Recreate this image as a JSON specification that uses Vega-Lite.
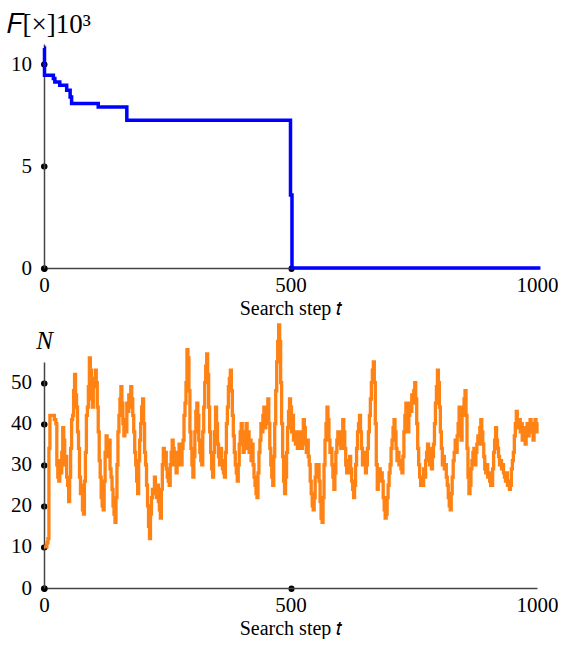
{
  "$schema": "https://vega.github.io/schema/vega-lite/v6.json",
  "padding": {"left": 6, "top": 10, "right": 0, "bottom": 0},
  "background": "white",
  "spacing": -1,
  "config": {
    "view": {"stroke": null},
    "font": "Liberation Serif",
    "axis": {
      "grid": false,
      "domainColor": "#444444",
      "domainWidth": 1.5,
      "tickColor": "black",
      "tickCap": "round",
      "tickWidth": 6,
      "tickSize": 0.5
    }
  },
  "vconcat": [
    {
      "width": 493,
      "height": 224,
      "data": {"values": [
        {"t": 0, "F": 10.8}, {"t": 1, "F": 9.46}, {"t": 19, "F": 9.3}, {"t": 22, "F": 9.13},
        {"t": 32, "F": 8.97}, {"t": 46, "F": 8.73}, {"t": 53, "F": 8.4}, {"t": 56, "F": 8.08},
        {"t": 110, "F": 7.91}, {"t": 168, "F": 7.26}, {"t": 500, "F": 3.58}, {"t": 503, "F": 0},
        {"t": 1007, "F": 0}
      ]},
      "mark": {"type": "line", "interpolate": "step-after", "color": "#0000ff", "strokeWidth": 3.5},
      "encoding": {
        "x": {
          "field": "t", "type": "quantitative",
          "scale": {"domain": [0, 1000], "nice": false},
          "axis": {
            "values": [0, 500, 1000], "format": "d", "labelPadding": 6, "labelFlush": false,
            "labelFont": "Liberation Serif", "labelFontSize": 21, "labelColor": "black",
            "tickColor": {"condition": {"test": "datum.value == 1000", "value": "transparent"}, "value": "black"},
            "title": "Search step 𝑡", "titlePadding": 3,
            "titleFont": "Liberation Serif", "titleFontSize": 20, "titleFontWeight": "normal", "titleColor": "black"
          }
        },
        "y": {
          "field": "F", "type": "quantitative",
          "scale": {"domain": [0, 11], "nice": false},
          "axis": {
            "values": [0, 5, 10], "labelPadding": 12,
            "labelFont": "Liberation Serif", "labelFontSize": 21, "labelColor": "black",
            "title": "𝐹[×]10³", "titleAngle": 0, "titleAlign": "left", "titleBaseline": "alphabetic",
            "titleX": -38, "titleY": -12,
            "titleFont": "Liberation Serif", "titleFontSize": 27, "titleFontWeight": "normal", "titleColor": "black"
          }
        }
      }
    },
    {
      "width": 493,
      "height": 226,
      "data": {"values": [
        {"t":0,"N":10},{"t":3,"N":10},{"t":6,"N":11},{"t":8,"N":12},{"t":10,"N":34},{"t":12,"N":42},{"t":15,"N":42},{"t":18,"N":42},{"t":21,"N":41},{"t":24,"N":40},
        {"t":26,"N":30},{"t":28,"N":27},{"t":30,"N":26},{"t":32,"N":31},{"t":34,"N":28},{"t":36,"N":33},{"t":38,"N":39},{"t":40,"N":36},{"t":42,"N":30},{"t":44,"N":32},
        {"t":46,"N":27},{"t":48,"N":25},{"t":50,"N":21},{"t":52,"N":27},{"t":54,"N":34},{"t":56,"N":41},{"t":58,"N":42},{"t":60,"N":48},{"t":62,"N":52},{"t":64,"N":47},
        {"t":66,"N":44},{"t":68,"N":38},{"t":70,"N":34},{"t":72,"N":27},{"t":74,"N":23},{"t":76,"N":25},{"t":78,"N":19},{"t":80,"N":18},{"t":82,"N":26},{"t":84,"N":33},
        {"t":86,"N":42},{"t":88,"N":44},{"t":90,"N":49},{"t":92,"N":56},{"t":94,"N":53},{"t":96,"N":46},{"t":98,"N":44},{"t":100,"N":49},{"t":102,"N":51},{"t":104,"N":53},
        {"t":106,"N":50},{"t":108,"N":44},{"t":110,"N":38},{"t":112,"N":31},{"t":114,"N":27},{"t":116,"N":22},{"t":118,"N":20},{"t":120,"N":19},{"t":122,"N":26},{"t":124,"N":33},
        {"t":126,"N":37},{"t":128,"N":35},{"t":130,"N":32},{"t":132,"N":36},{"t":134,"N":29},{"t":136,"N":27},{"t":138,"N":24},{"t":140,"N":20},{"t":142,"N":18},{"t":144,"N":16},
        {"t":146,"N":22},{"t":148,"N":30},{"t":150,"N":38},{"t":152,"N":42},{"t":154,"N":46},{"t":156,"N":49},{"t":158,"N":45},{"t":160,"N":40},{"t":162,"N":37},{"t":164,"N":41},
        {"t":166,"N":38},{"t":168,"N":45},{"t":170,"N":43},{"t":172,"N":47},{"t":174,"N":44},{"t":176,"N":49},{"t":178,"N":46},{"t":180,"N":42},{"t":182,"N":38},{"t":184,"N":33},
        {"t":186,"N":30},{"t":188,"N":26},{"t":190,"N":23},{"t":192,"N":31},{"t":194,"N":36},{"t":196,"N":40},{"t":198,"N":44},{"t":200,"N":46},{"t":202,"N":40},{"t":204,"N":33},
        {"t":206,"N":30},{"t":208,"N":25},{"t":210,"N":20},{"t":212,"N":15},{"t":214,"N":12},{"t":216,"N":18},{"t":218,"N":22},{"t":220,"N":24},{"t":222,"N":23},{"t":224,"N":27},
        {"t":226,"N":24},{"t":228,"N":22},{"t":230,"N":25},{"t":232,"N":21},{"t":234,"N":19},{"t":236,"N":17},{"t":238,"N":24},{"t":240,"N":30},{"t":242,"N":34},{"t":244,"N":31},
        {"t":246,"N":33},{"t":248,"N":29},{"t":250,"N":27},{"t":252,"N":26},{"t":254,"N":25},{"t":256,"N":30},{"t":258,"N":33},{"t":260,"N":36},{"t":262,"N":34},{"t":264,"N":30},
        {"t":266,"N":31},{"t":268,"N":28},{"t":270,"N":33},{"t":272,"N":30},{"t":274,"N":35},{"t":276,"N":32},{"t":278,"N":30},{"t":280,"N":34},{"t":282,"N":36},{"t":284,"N":42},
        {"t":286,"N":45},{"t":288,"N":50},{"t":290,"N":58},{"t":292,"N":56},{"t":294,"N":48},{"t":296,"N":38},{"t":298,"N":34},{"t":300,"N":30},{"t":302,"N":27},{"t":304,"N":32},
        {"t":306,"N":38},{"t":308,"N":43},{"t":310,"N":45},{"t":312,"N":42},{"t":314,"N":36},{"t":316,"N":33},{"t":318,"N":31},{"t":320,"N":30},{"t":322,"N":38},{"t":324,"N":44},
        {"t":326,"N":50},{"t":328,"N":54},{"t":330,"N":57},{"t":332,"N":52},{"t":334,"N":44},{"t":336,"N":38},{"t":338,"N":33},{"t":340,"N":29},{"t":342,"N":27},{"t":344,"N":33},
        {"t":346,"N":38},{"t":348,"N":44},{"t":350,"N":40},{"t":352,"N":35},{"t":354,"N":32},{"t":356,"N":30},{"t":358,"N":34},{"t":360,"N":31},{"t":362,"N":29},{"t":364,"N":28},
        {"t":366,"N":27},{"t":368,"N":33},{"t":370,"N":40},{"t":372,"N":44},{"t":374,"N":49},{"t":376,"N":51},{"t":378,"N":53},{"t":380,"N":48},{"t":382,"N":42},{"t":384,"N":37},
        {"t":386,"N":33},{"t":388,"N":30},{"t":390,"N":28},{"t":392,"N":26},{"t":394,"N":30},{"t":396,"N":35},{"t":398,"N":38},{"t":400,"N":40},{"t":402,"N":36},{"t":404,"N":33},
        {"t":406,"N":38},{"t":408,"N":35},{"t":410,"N":40},{"t":412,"N":34},{"t":414,"N":38},{"t":416,"N":33},{"t":418,"N":36},{"t":420,"N":31},{"t":422,"N":35},{"t":424,"N":30},
        {"t":426,"N":27},{"t":428,"N":25},{"t":430,"N":23},{"t":432,"N":22},{"t":434,"N":28},{"t":436,"N":33},{"t":438,"N":36},{"t":440,"N":40},{"t":442,"N":38},{"t":444,"N":42},
        {"t":446,"N":44},{"t":448,"N":39},{"t":450,"N":42},{"t":452,"N":44},{"t":454,"N":46},{"t":456,"N":40},{"t":458,"N":34},{"t":460,"N":30},{"t":462,"N":27},{"t":464,"N":25},
        {"t":466,"N":32},{"t":468,"N":40},{"t":470,"N":48},{"t":472,"N":55},{"t":474,"N":60},{"t":476,"N":64},{"t":478,"N":60},{"t":480,"N":50},{"t":482,"N":40},{"t":484,"N":32},
        {"t":486,"N":26},{"t":488,"N":23},{"t":490,"N":27},{"t":492,"N":33},{"t":494,"N":39},{"t":496,"N":43},{"t":498,"N":46},{"t":500,"N":44},{"t":502,"N":38},{"t":504,"N":42},
        {"t":506,"N":36},{"t":508,"N":38},{"t":510,"N":35},{"t":512,"N":38},{"t":514,"N":34},{"t":516,"N":37},{"t":518,"N":35},{"t":520,"N":38},{"t":522,"N":34},{"t":524,"N":38},
        {"t":526,"N":41},{"t":528,"N":39},{"t":530,"N":35},{"t":532,"N":33},{"t":534,"N":36},{"t":536,"N":32},{"t":538,"N":30},{"t":540,"N":26},{"t":542,"N":23},{"t":544,"N":20},
        {"t":546,"N":19},{"t":548,"N":22},{"t":550,"N":27},{"t":552,"N":30},{"t":554,"N":28},{"t":556,"N":30},{"t":558,"N":26},{"t":560,"N":21},{"t":562,"N":17},{"t":564,"N":16},
        {"t":566,"N":22},{"t":568,"N":30},{"t":570,"N":36},{"t":572,"N":40},{"t":574,"N":44},{"t":576,"N":41},{"t":578,"N":36},{"t":580,"N":33},{"t":582,"N":34},{"t":584,"N":30},
        {"t":586,"N":27},{"t":588,"N":24},{"t":590,"N":28},{"t":592,"N":33},{"t":594,"N":36},{"t":596,"N":38},{"t":598,"N":35},{"t":600,"N":37},{"t":602,"N":34},{"t":604,"N":38},
        {"t":606,"N":41},{"t":608,"N":38},{"t":610,"N":34},{"t":612,"N":30},{"t":614,"N":28},{"t":616,"N":31},{"t":618,"N":28},{"t":620,"N":32},{"t":622,"N":29},{"t":624,"N":26},
        {"t":626,"N":24},{"t":628,"N":22},{"t":630,"N":25},{"t":632,"N":30},{"t":634,"N":34},{"t":636,"N":38},{"t":638,"N":40},{"t":640,"N":42},{"t":642,"N":38},{"t":644,"N":34},
        {"t":646,"N":30},{"t":648,"N":33},{"t":650,"N":31},{"t":652,"N":28},{"t":654,"N":30},{"t":656,"N":34},{"t":658,"N":38},{"t":660,"N":42},{"t":662,"N":46},{"t":664,"N":50},
        {"t":666,"N":53},{"t":668,"N":55},{"t":670,"N":50},{"t":672,"N":40},{"t":674,"N":30},{"t":676,"N":24},{"t":678,"N":27},{"t":680,"N":29},{"t":682,"N":26},{"t":684,"N":28},
        {"t":686,"N":26},{"t":688,"N":22},{"t":690,"N":19},{"t":692,"N":17},{"t":694,"N":18},{"t":696,"N":22},{"t":698,"N":25},{"t":700,"N":28},{"t":702,"N":30},{"t":704,"N":34},
        {"t":706,"N":36},{"t":708,"N":39},{"t":710,"N":41},{"t":712,"N":38},{"t":714,"N":34},{"t":716,"N":31},{"t":718,"N":33},{"t":720,"N":30},{"t":722,"N":31},{"t":724,"N":29},
        {"t":726,"N":28},{"t":728,"N":32},{"t":730,"N":38},{"t":732,"N":42},{"t":734,"N":45},{"t":736,"N":41},{"t":738,"N":38},{"t":740,"N":42},{"t":742,"N":45},{"t":744,"N":43},
        {"t":746,"N":47},{"t":748,"N":45},{"t":750,"N":48},{"t":752,"N":50},{"t":754,"N":46},{"t":756,"N":40},{"t":758,"N":34},{"t":760,"N":30},{"t":762,"N":27},{"t":764,"N":25},
        {"t":766,"N":26},{"t":768,"N":25},{"t":770,"N":29},{"t":772,"N":27},{"t":774,"N":31},{"t":776,"N":33},{"t":778,"N":35},{"t":780,"N":32},{"t":782,"N":30},{"t":784,"N":34},
        {"t":786,"N":29},{"t":788,"N":32},{"t":790,"N":35},{"t":792,"N":40},{"t":794,"N":45},{"t":796,"N":49},{"t":798,"N":53},{"t":800,"N":50},{"t":802,"N":44},{"t":804,"N":38},
        {"t":806,"N":34},{"t":808,"N":30},{"t":810,"N":32},{"t":812,"N":29},{"t":814,"N":30},{"t":816,"N":27},{"t":818,"N":25},{"t":820,"N":22},{"t":822,"N":20},{"t":824,"N":19},
        {"t":826,"N":23},{"t":828,"N":27},{"t":830,"N":31},{"t":832,"N":33},{"t":834,"N":36},{"t":836,"N":33},{"t":838,"N":37},{"t":840,"N":40},{"t":842,"N":44},{"t":844,"N":38},
        {"t":846,"N":36},{"t":848,"N":42},{"t":850,"N":44},{"t":852,"N":46},{"t":854,"N":48},{"t":856,"N":42},{"t":858,"N":34},{"t":860,"N":27},{"t":862,"N":23},{"t":864,"N":25},
        {"t":866,"N":29},{"t":868,"N":31},{"t":870,"N":33},{"t":872,"N":34},{"t":874,"N":30},{"t":876,"N":33},{"t":878,"N":35},{"t":880,"N":37},{"t":882,"N":35},{"t":884,"N":39},
        {"t":886,"N":41},{"t":888,"N":38},{"t":890,"N":35},{"t":892,"N":32},{"t":894,"N":29},{"t":896,"N":28},{"t":898,"N":30},{"t":900,"N":27},{"t":902,"N":28},{"t":904,"N":26},
        {"t":906,"N":25},{"t":908,"N":25},{"t":910,"N":29},{"t":912,"N":33},{"t":914,"N":36},{"t":916,"N":39},{"t":918,"N":36},{"t":920,"N":34},{"t":922,"N":32},{"t":924,"N":30},
        {"t":926,"N":31},{"t":928,"N":29},{"t":930,"N":30},{"t":932,"N":28},{"t":934,"N":27},{"t":936,"N":26},{"t":938,"N":28},{"t":940,"N":25},{"t":942,"N":26},{"t":944,"N":24},
        {"t":946,"N":25},{"t":948,"N":29},{"t":950,"N":31},{"t":952,"N":33},{"t":954,"N":37},{"t":956,"N":40},{"t":958,"N":43},{"t":960,"N":41},{"t":962,"N":39},{"t":964,"N":41},
        {"t":966,"N":38},{"t":968,"N":40},{"t":970,"N":36},{"t":972,"N":39},{"t":974,"N":37},{"t":976,"N":35},{"t":978,"N":38},{"t":980,"N":40},{"t":982,"N":37},{"t":984,"N":39},
        {"t":986,"N":41},{"t":988,"N":38},{"t":990,"N":40},{"t":992,"N":36},{"t":994,"N":39},{"t":996,"N":41},{"t":998,"N":38},{"t":1000,"N":40},{"t":1003,"N":40}
      ]},
      "mark": {"type": "line", "interpolate": "step-after", "color": "#ff8214", "strokeWidth": 3.3},
      "encoding": {
        "x": {
          "field": "t", "type": "quantitative",
          "scale": {"domain": [0, 1000], "nice": false},
          "axis": {
            "values": [0, 500, 1000], "format": "d", "labelPadding": 6, "labelFlush": false,
            "labelFont": "Liberation Serif", "labelFontSize": 21, "labelColor": "black",
            "tickColor": {"condition": {"test": "datum.value == 1000", "value": "transparent"}, "value": "black"},
            "title": "Search step 𝑡", "titlePadding": 3,
            "titleFont": "Liberation Serif", "titleFontSize": 20, "titleFontWeight": "normal", "titleColor": "black"
          }
        },
        "y": {
          "field": "N", "type": "quantitative",
          "scale": {"domain": [0, 55], "nice": false},
          "axis": {
            "values": [0, 10, 20, 30, 40, 50], "labelPadding": 12,
            "labelFont": "Liberation Serif", "labelFontSize": 21, "labelColor": "black",
            "title": "N", "titleFontStyle": "italic", "titleAngle": 0, "titleAlign": "center", "titleBaseline": "alphabetic",
            "titleX": 0, "titleY": -14,
            "titleFont": "Liberation Serif", "titleFontSize": 25, "titleFontWeight": "normal", "titleColor": "black"
          }
        }
      }
    }
  ]
}
